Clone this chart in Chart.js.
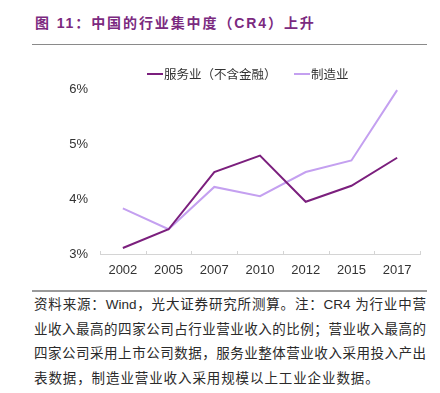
<!DOCTYPE html>
<html><head><meta charset="utf-8">
<script src="https://cdn.jsdelivr.net/npm/chart.js@4/dist/chart.umd.min.js"></script>
<style>
html,body{margin:0;padding:0;background:#fff;width:440px;height:393px;overflow:hidden;position:relative;font-family:"Liberation Sans","Noto Sans CJK SC",sans-serif;}
#title{position:absolute;left:35px;top:12px;font-size:14px;font-weight:bold;color:#7b2a80;letter-spacing:1.9px;white-space:nowrap;font-family:"Liberation Sans","Noto Sans CJK SC",sans-serif;}
.rule{position:absolute;left:32px;width:395px;}
#r1{top:44px;height:1px;background:#8a8a8a;}
#r2{top:290px;height:1.5px;background:#9a9a9a;}
#wrap{position:absolute;left:32px;top:46px;width:395px;height:244px;}
.lg{position:absolute;top:64px;font-size:12.5px;color:#333;white-space:nowrap;display:flex;align-items:center;font-family:"Liberation Sans","Noto Sans CJK SC",sans-serif;}
.lg i{display:inline-block;width:16px;height:2px;margin-right:1px;}
#note{position:absolute;left:34px;top:293px;width:392px;font-size:13.5px;color:#2a2a2a;font-family:"Liberation Sans","Noto Sans CJK SC",sans-serif;}
#note div{height:24.7px;line-height:24.7px;text-align:justify;text-align-last:justify;white-space:nowrap;}
#note div.last{text-align-last:left;letter-spacing:0.9px;}
</style></head>
<body>
<div id="title">图 11：中国的行业集中度（CR4）上升</div>
<div class="rule" id="r1"></div>
<div id="wrap"><canvas id="c" width="395" height="244"></canvas></div>
<div class="rule" id="r2"></div>
<div class="lg" id="lg1" style="left:147px"></div>
<div class="lg" id="lg2" style="left:294px"></div>
<div id="note">
<div>资料来源：Wind，光大证券研究所测算。注：CR4 为行业中营</div>
<div>业收入最高的四家公司占行业营业收入的比例；营业收入最高的</div>
<div>四家公司采用上市公司数据，服务业整体营业收入采用投入产出</div>
<div class="last">表数据，制造业营业收入采用规模以上工业企业数据。</div>
</div>
<script>
const categories = ['2002','2005','2007','2010','2012','2015','2017'];
const serviceLabel = '服务业（不含金融）';
const serviceValues = [3.11, 3.45, 4.49, 4.79, 3.95, 4.24, 4.75];
const manufLabel = '制造业';
const manufValues = [3.83, 3.45, 4.22, 4.05, 4.49, 4.70, 5.98];
const yTicks = [3, 4, 5, 6];

const darkColor = '#7b1f7d';
const lightColor = '#c4a0f0';

function legendItem(id, color, text){
  const el = document.getElementById(id);
  const i = document.createElement('i'); i.style.background = color;
  el.appendChild(i);
  el.appendChild(document.createTextNode(text));
}
legendItem('lg1', darkColor, serviceLabel);
legendItem('lg2', lightColor, manufLabel);

const upTicks = {
  id: 'upTicks',
  afterDraw(chart){
    const x = chart.scales.x, ctx = chart.ctx, b = chart.chartArea.bottom;
    ctx.save();
    ctx.strokeStyle = '#d4d4d4'; ctx.lineWidth = 1;
    for (let i = 0; i <= categories.length; i++) {
      const px = Math.round(x.getPixelForValue(i - 0.5)) + 0.5;
      ctx.beginPath(); ctx.moveTo(px, b); ctx.lineTo(px, b - 3); ctx.stroke();
    }
    ctx.restore();
  }
};

new Chart(document.getElementById('c'), {
  type: 'line',
  data: {
    labels: categories,
    datasets: [
      {label: serviceLabel, data: serviceValues, borderColor: darkColor, backgroundColor: darkColor, borderWidth: 2, pointRadius: 0, tension: 0},
      {label: manufLabel, data: manufValues, borderColor: lightColor, backgroundColor: lightColor, borderWidth: 2, pointRadius: 0, tension: 0}
    ]
  },
  options: {
    responsive: false, animation: false, devicePixelRatio: 1,
    layout: {padding: {top: 43, right: 7, left: 0, bottom: 0}},
    plugins: {legend: {display: false}, tooltip: {enabled: false}},
    scales: {
      x: {
        offset: true,
        grid: {display: false, drawTicks: false},
        border: {display: true, color: '#d4d4d4', width: 1},
        ticks: {color: '#333', font: {family: 'Liberation Sans', size: 13}, padding: 9, maxRotation: 0},
        afterFit(s){ s.height = 36; }
      },
      y: {
        min: 3, max: 6,
        afterBuildTicks(s){ s.ticks = yTicks.map(v => ({value: v})); },
        grid: {display: false, drawTicks: false},
        border: {display: false},
        ticks: {color: '#333', font: {family: 'Liberation Sans', size: 13}, padding: 12, callback: v => v + '%'},
        afterFit(s){ s.width = 68; }
      }
    }
  },
  plugins: [upTicks]
});
</script>
</body></html>
